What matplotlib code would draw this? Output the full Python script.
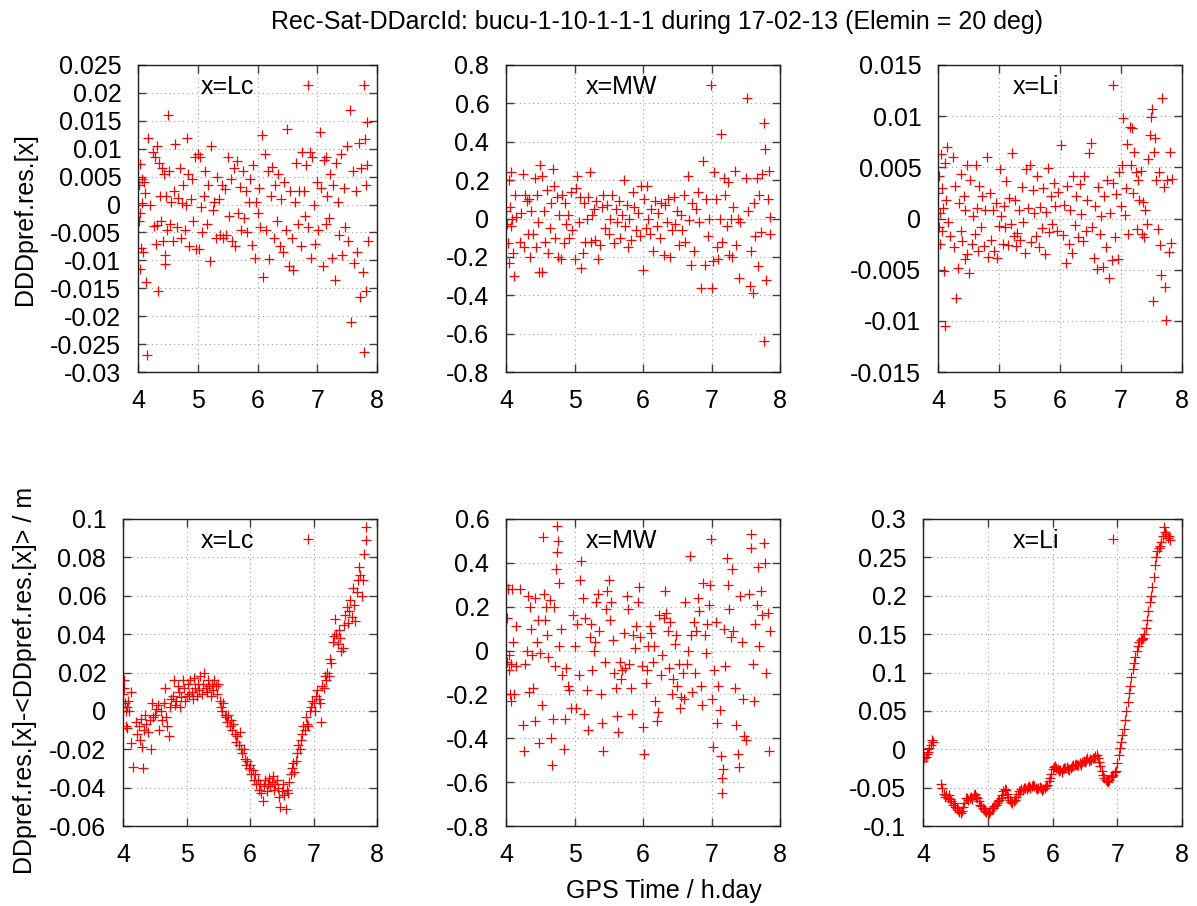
import matplotlib
matplotlib.use('Agg')
import matplotlib.pyplot as plt
from matplotlib.transforms import ScaledTranslation

plt.rcParams['font.family'] = ['Liberation Sans', 'DejaVu Sans']
plt.rcParams['axes.unicode_minus'] = False

title = 'Rec-Sat-DDarcId: bucu-1-10-1-1-1 during 17-02-13 (Elemin = 20 deg)'
xlabel = 'GPS Time / h.day'
ylabel_top = 'DDDpref.res.[x]'
ylabel_bot = 'DDpref.res.[x]-<DDpref.res.[x]> / m'
x_ticks = [4, 5, 6, 7, 8]

# --- top row: DDD residuals (time, value)
lc_ddd = [
    (4.01, 0.0035), (4.02, -0.003), (4.03, 0.0072), (4.04, -0.0015), (4.05, -0.0078),
    (4.06, 0.0045), (4.07, 0.0002), (4.08, -0.0085), (4.03, -0.0115), (4.1, 0.004),
    (4.12, 0.002), (4.14, -0.0138), (4.15, -0.027), (4.17, 0.012), (4.2, 0.0),
    (4.25, 0.0095), (4.27, -0.0038), (4.28, 0.0085), (4.3, -0.007), (4.31, 0.0105),
    (4.32, -0.0036), (4.33, -0.0155), (4.35, 0.0075), (4.36, 0.0015), (4.38, -0.003),
    (4.4, 0.0065), (4.42, -0.0065), (4.44, 0.0055), (4.45, -0.009), (4.46, -0.0107),
    (4.47, 0.0015), (4.48, -0.0045), (4.5, 0.016), (4.52, 0.006), (4.54, -0.0035),
    (4.55, 0.0005), (4.58, -0.0065), (4.6, 0.0025), (4.62, 0.0108), (4.65, -0.004),
    (4.67, 0.0012), (4.7, 0.0065), (4.72, -0.006), (4.74, 0.0002), (4.76, 0.0035),
    (4.78, -0.0045), (4.8, 0.0), (4.82, 0.012), (4.84, 0.0055), (4.86, -0.0075),
    (4.88, 0.001), (4.9, 0.0045), (4.92, -0.003), (4.95, 0.0085), (4.97, -0.008),
    (5.0, 0.009), (5.02, -0.008), (5.03, 0.0085), (5.05, -0.0005), (5.07, -0.005),
    (5.1, 0.0015), (5.12, 0.006), (5.15, -0.0035), (5.17, 0.0035), (5.2, -0.0102),
    (5.23, 0.0105), (5.25, -0.001), (5.27, 0.0005), (5.3, -0.006), (5.32, 0.005),
    (5.35, 0.001), (5.37, -0.0055), (5.4, 0.0035), (5.42, -0.006), (5.45, 0.0028),
    (5.48, -0.0055), (5.5, 0.0085), (5.52, -0.002), (5.55, 0.0045), (5.58, -0.0065),
    (5.6, 0.0065), (5.62, -0.0075), (5.65, 0.0078), (5.68, -0.0015), (5.7, 0.0032),
    (5.72, -0.0045), (5.75, 0.006), (5.78, -0.0025), (5.8, 0.0025), (5.82, -0.005),
    (5.85, 0.0005), (5.88, 0.0045), (5.9, -0.0072), (5.92, 0.007), (5.95, -0.0095),
    (5.97, 0.0005), (6.0, -0.0015), (6.02, 0.003), (6.05, -0.004), (6.08, 0.0125),
    (6.1, -0.013), (6.12, 0.009), (6.15, -0.0045), (6.18, 0.006), (6.2, -0.0098),
    (6.22, 0.0015), (6.25, 0.0068), (6.27, -0.006), (6.3, 0.0035), (6.32, -0.003),
    (6.35, 0.0055), (6.38, -0.0075), (6.4, 0.001), (6.42, -0.0085), (6.45, 0.004),
    (6.48, -0.0045), (6.5, 0.0135), (6.52, -0.011), (6.55, 0.0025), (6.57, -0.006),
    (6.6, -0.0118), (6.62, 0.0005), (6.65, 0.0075), (6.68, -0.0035), (6.7, 0.0025),
    (6.72, -0.0075), (6.75, 0.0095), (6.78, 0.0025), (6.8, -0.002), (6.82, 0.007),
    (6.85, -0.004), (6.88, 0.0095), (6.9, -0.0095), (6.92, 0.0085), (6.95, 0.0),
    (6.97, -0.007), (7.0, 0.004), (7.02, -0.0045), (7.05, 0.013), (7.07, 0.003),
    (7.1, -0.011), (7.12, 0.008), (7.14, -0.0035), (7.15, 0.0085), (7.17, 0.0015),
    (7.2, -0.0025), (7.22, 0.0055), (7.25, -0.0095), (7.27, 0.0035), (7.3, -0.0135),
    (7.32, 0.0075), (7.35, 0.0005), (7.37, -0.0055), (7.4, 0.009), (7.42, -0.009),
    (7.45, 0.003), (7.47, -0.004), (7.5, 0.0105), (7.52, -0.0065), (7.55, 0.017),
    (7.57, -0.021), (7.6, 0.006), (7.62, -0.0105), (7.65, 0.0025), (7.67, -0.0085),
    (7.7, 0.011), (7.72, -0.0165), (7.74, 0.0065), (7.76, -0.012), (7.78, 0.0215),
    (7.79, -0.0265), (7.8, 0.0118), (7.81, 0.0035), (7.82, -0.0155), (7.83, 0.0148),
    (7.84, 0.007), (7.85, -0.0065),
]

mw_ddd = [
    (4.0, 0.04), (4.02, -0.03), (4.03, -0.13), (4.04, -0.23), (4.05, 0.2), (4.06, 0.06),
    (4.07, -0.04), (4.08, 0.24), (4.09, 0.0), (4.1, -0.18), (4.12, -0.3), (4.13, 0.12),
    (4.15, 0.01), (4.2, -0.12), (4.22, 0.03), (4.25, 0.23), (4.27, -0.15), (4.28, 0.12),
    (4.3, 0.09), (4.32, -0.08), (4.34, 0.1), (4.35, -0.2), (4.37, 0.04), (4.4, -0.08),
    (4.42, 0.21), (4.44, -0.15), (4.45, 0.12), (4.47, -0.02), (4.48, -0.28), (4.5, 0.28),
    (4.52, 0.22), (4.53, -0.28), (4.55, 0.04), (4.57, -0.12), (4.6, 0.15), (4.62, -0.18),
    (4.64, -0.05), (4.66, 0.08), (4.68, 0.26), (4.7, 0.17), (4.72, -0.1), (4.74, 0.11),
    (4.76, -0.2), (4.78, 0.02), (4.8, -0.21), (4.82, 0.12), (4.84, -0.13), (4.86, 0.08),
    (4.88, -0.03), (4.9, 0.02), (4.92, -0.1), (4.95, 0.14), (4.97, -0.06), (5.0, -0.21),
    (5.02, 0.16), (5.04, 0.22), (5.06, -0.02), (5.08, 0.11), (5.1, -0.26), (5.12, -0.18),
    (5.14, 0.08), (5.16, -0.12), (5.18, 0.0), (5.2, 0.11), (5.22, 0.24), (5.24, -0.12),
    (5.26, 0.02), (5.28, 0.05), (5.3, -0.11), (5.32, 0.09), (5.35, -0.21), (5.37, -0.14),
    (5.4, 0.06), (5.42, 0.12), (5.45, -0.05), (5.47, 0.07), (5.5, -0.08), (5.52, 0.0),
    (5.55, 0.12), (5.57, -0.13), (5.6, 0.05), (5.62, -0.02), (5.65, 0.09), (5.67, -0.1),
    (5.7, 0.02), (5.72, 0.2), (5.74, -0.04), (5.76, 0.07), (5.78, -0.15), (5.8, 0.0),
    (5.82, -0.11), (5.85, 0.14), (5.87, 0.06), (5.9, -0.06), (5.92, 0.03), (5.95, -0.09),
    (5.97, 0.17), (6.0, -0.27), (6.02, 0.1), (6.04, -0.05), (6.06, 0.17), (6.08, 0.0),
    (6.1, -0.08), (6.12, 0.05), (6.15, -0.17), (6.17, 0.09), (6.2, -0.04), (6.22, 0.03),
    (6.25, -0.1), (6.27, 0.08), (6.3, -0.19), (6.32, 0.07), (6.35, -0.02), (6.37, 0.1),
    (6.4, -0.2), (6.42, -0.06), (6.45, 0.11), (6.47, -0.03), (6.5, 0.04), (6.52, -0.14),
    (6.55, 0.02), (6.57, -0.06), (6.6, 0.12), (6.62, -0.12), (6.65, 0.22), (6.67, -0.01),
    (6.7, -0.24), (6.72, 0.08), (6.75, -0.17), (6.77, 0.05), (6.8, 0.14), (6.82, -0.02),
    (6.85, -0.36), (6.87, 0.3), (6.9, -0.24), (6.92, 0.1), (6.95, -0.09), (6.97, 0.0),
    (7.0, -0.36), (7.02, -0.22), (7.04, 0.24), (7.06, 0.1), (7.08, -0.15), (7.1, -0.21),
    (7.12, 0.0), (7.14, 0.44), (7.16, -0.12), (7.18, 0.21), (7.2, 0.12), (7.22, -0.04),
    (7.24, 0.19), (7.26, -0.19), (7.28, 0.0), (7.3, -0.2), (7.32, 0.06), (7.34, 0.25),
    (7.36, -0.14), (7.38, 0.0), (7.4, -0.31), (7.42, -0.02), (7.5, 0.21), (7.52, 0.63),
    (7.54, 0.04), (7.56, -0.35), (7.58, -0.17), (7.6, -0.39), (7.62, 0.08), (7.64, -0.09),
    (7.66, 0.21), (7.68, -0.25), (7.7, 0.12), (7.72, -0.07), (7.74, 0.23), (7.76, 0.5),
    (7.77, -0.64), (7.78, 0.36), (7.8, -0.32), (7.82, 0.1), (7.84, 0.25), (7.85, -0.08),
    (7.86, 0.01),
]

li_ddd = [
    (4.0, 0.0025), (4.01, -0.0008), (4.02, 0.0042), (4.03, 0.0005), (4.04, -0.0025),
    (4.05, 0.0063), (4.06, 0.003), (4.07, -0.0012), (4.08, 0.001), (4.1, -0.0051),
    (4.11, 0.0054), (4.12, -0.0105), (4.13, 0.0018), (4.15, 0.007), (4.16, -0.0003),
    (4.2, -0.0017), (4.25, 0.006), (4.27, -0.0028), (4.28, 0.0032), (4.3, -0.0078),
    (4.32, -0.0048), (4.35, 0.0015), (4.37, -0.0012), (4.38, 0.0043), (4.4, -0.0022),
    (4.42, 0.0022), (4.44, -0.004), (4.45, 0.0008), (4.47, -0.0035), (4.48, 0.0052),
    (4.5, -0.0053), (4.52, 0.0038), (4.55, -0.0025), (4.57, 0.0002), (4.6, -0.0015),
    (4.62, 0.0052), (4.64, 0.001), (4.66, -0.0032), (4.68, 0.0032), (4.7, -0.0008),
    (4.72, 0.0022), (4.75, -0.0027), (4.77, 0.0008), (4.8, 0.006), (4.82, -0.0038),
    (4.85, 0.0025), (4.87, -0.0021), (4.9, 0.0008), (4.92, -0.0032), (4.95, 0.0015),
    (4.97, -0.0039), (5.0, -0.0007), (5.02, 0.0048), (5.04, 0.0002), (5.06, -0.0025),
    (5.08, 0.0012), (5.1, -0.0008), (5.12, 0.0037), (5.15, -0.0026), (5.17, 0.002),
    (5.2, -0.0005), (5.22, 0.0064), (5.24, -0.0017), (5.26, 0.0018), (5.28, -0.0027),
    (5.3, -0.0014), (5.32, 0.0008), (5.35, -0.0021), (5.37, 0.0031), (5.4, -0.0003),
    (5.42, -0.0034), (5.45, 0.0048), (5.47, 0.001), (5.5, 0.0052), (5.52, -0.0023),
    (5.55, 0.0028), (5.57, 0.0005), (5.6, -0.0017), (5.62, 0.0042), (5.65, -0.0028),
    (5.67, 0.0011), (5.7, -0.0009), (5.72, 0.003), (5.75, -0.0035), (5.77, 0.0006),
    (5.8, 0.0049), (5.82, -0.0013), (5.85, 0.0022), (5.87, -0.0005), (5.9, 0.0035),
    (5.92, 0.0012), (5.95, -0.0012), (5.97, 0.0026), (6.02, 0.0072), (6.05, -0.0016),
    (6.07, 0.0013), (6.1, -0.0043), (6.12, 0.0032), (6.15, -0.0025), (6.17, 0.0008),
    (6.2, -0.0034), (6.22, 0.0042), (6.25, -0.0006), (6.27, 0.0022), (6.3, -0.0018),
    (6.32, 0.0034), (6.35, 0.0004), (6.37, -0.0022), (6.4, 0.0042), (6.42, -0.0012),
    (6.45, 0.0018), (6.47, 0.0064), (6.5, 0.0074), (6.52, -0.0008), (6.55, -0.0039),
    (6.57, 0.0012), (6.6, -0.0049), (6.62, 0.0031), (6.65, -0.0015), (6.67, 0.0002),
    (6.7, -0.0047), (6.72, 0.0022), (6.75, -0.0028), (6.77, 0.0038), (6.8, -0.0058),
    (6.82, 0.0005), (6.85, -0.0041), (6.87, 0.0035), (6.9, -0.0018), (6.92, 0.0024),
    (6.95, -0.004), (6.97, 0.0045), (7.0, 0.0012), (7.02, 0.0052), (7.04, 0.0098),
    (7.06, 0.0003), (7.08, 0.003), (7.1, 0.0073), (7.12, -0.0015), (7.14, 0.0089),
    (7.16, 0.0052), (7.18, 0.0088), (7.2, 0.0025), (7.22, 0.0065), (7.24, 0.0045),
    (7.26, -0.001), (7.28, 0.0038), (7.3, 0.0018), (7.32, 0.0046), (7.34, -0.0015),
    (7.36, 0.0016), (7.38, -0.0018), (7.4, 0.0008), (7.42, -0.0005), (7.45, 0.0058),
    (7.47, 0.0082), (7.49, 0.0099), (7.5, 0.0107), (7.52, -0.0081), (7.54, 0.0065),
    (7.56, 0.0079), (7.58, 0.0038), (7.6, -0.001), (7.62, 0.0045), (7.64, -0.0026),
    (7.66, -0.0055), (7.68, 0.0118), (7.7, 0.0031), (7.72, -0.0067), (7.74, -0.0099),
    (7.76, 0.0038), (7.78, -0.0033), (7.8, 0.0065), (7.82, -0.0024), (7.84, 0.0039),
]

# --- bottom row: DD residuals minus mean
lc_dd = [
    (4.0, 0.009), (4.01, 0.016), (4.02, 0.012), (4.03, 0.004), (4.04, -0.008), (4.05, 0.0),
    (4.06, 0.002), (4.07, -0.009), (4.08, 0.005), (4.1, 0.0), (4.12, 0.01), (4.13, -0.017),
    (4.15, -0.029), (4.2, -0.006), (4.22, -0.012), (4.25, -0.008), (4.27, -0.015),
    (4.28, -0.004), (4.3, -0.019), (4.32, -0.03), (4.33, -0.01), (4.35, -0.002),
    (4.37, -0.007), (4.4, -0.011), (4.42, -0.005), (4.44, -0.02), (4.45, 0.004),
    (4.47, -0.003), (4.5, -0.002), (4.52, 0.001), (4.55, 0.003), (4.57, -0.01), (4.6, 0.0),
    (4.62, -0.005), (4.64, 0.004), (4.66, 0.012), (4.68, -0.003), (4.7, -0.008),
    (4.72, -0.013), (4.74, 0.002), (4.76, 0.006), (4.78, 0.008), (4.8, 0.016), (4.82, 0.003),
    (4.84, 0.005), (4.86, 0.013), (4.88, 0.01), (4.9, 0.002), (4.92, 0.007), (4.94, 0.016),
    (4.96, 0.012), (4.98, 0.005), (5.0, 0.008), (5.02, 0.014), (5.04, 0.009), (5.06, 0.016),
    (5.08, 0.01), (5.1, 0.006), (5.12, 0.017), (5.14, 0.012), (5.16, 0.008), (5.18, 0.014),
    (5.2, 0.011), (5.22, 0.018), (5.24, 0.009), (5.26, 0.014), (5.28, 0.02), (5.3, 0.012),
    (5.32, 0.01), (5.34, 0.016), (5.36, 0.013), (5.38, 0.008), (5.4, 0.014), (5.42, 0.011),
    (5.44, 0.016), (5.46, 0.013), (5.48, 0.009), (5.5, 0.014), (5.52, 0.005), (5.54, 0.002),
    (5.56, 0.0), (5.58, 0.004), (5.6, -0.002), (5.62, -0.003), (5.64, -0.006), (5.66, -0.002),
    (5.68, -0.008), (5.7, -0.005), (5.72, -0.01), (5.74, -0.007), (5.76, -0.012),
    (5.78, -0.016), (5.8, -0.013), (5.82, -0.018), (5.84, -0.011), (5.86, -0.02),
    (5.88, -0.022), (5.9, -0.02), (5.92, -0.025), (5.94, -0.028), (5.96, -0.026),
    (5.98, -0.03), (6.0, -0.028), (6.02, -0.033), (6.04, -0.031), (6.06, -0.036),
    (6.08, -0.033), (6.1, -0.038), (6.12, -0.036), (6.14, -0.041), (6.16, -0.038),
    (6.18, -0.043), (6.2, -0.047), (6.22, -0.039), (6.24, -0.036), (6.26, -0.042),
    (6.28, -0.038), (6.3, -0.035), (6.32, -0.039), (6.34, -0.037), (6.36, -0.034),
    (6.38, -0.041), (6.4, -0.038), (6.42, -0.036), (6.44, -0.04), (6.46, -0.045),
    (6.48, -0.05), (6.5, -0.042), (6.52, -0.038), (6.54, -0.044), (6.56, -0.051),
    (6.58, -0.041), (6.6, -0.043), (6.62, -0.037), (6.64, -0.033), (6.66, -0.03),
    (6.68, -0.027), (6.7, -0.032), (6.72, -0.026), (6.74, -0.022), (6.76, -0.018),
    (6.78, -0.02), (6.8, -0.015), (6.82, -0.012), (6.84, -0.008), (6.86, -0.01),
    (6.88, -0.003), (6.9, -0.007), (6.92, -0.008), (6.94, 0.0), (6.96, 0.002), (6.98, 0.005),
    (7.0, 0.004), (7.02, 0.0), (7.04, 0.008), (7.06, 0.011), (7.08, 0.006), (7.1, 0.004),
    (7.12, -0.006), (7.14, 0.013), (7.16, 0.012), (7.18, 0.018), (7.2, 0.016), (7.22, 0.02),
    (7.24, 0.018), (7.26, 0.027), (7.28, 0.025), (7.3, 0.036), (7.32, 0.039), (7.34, 0.048),
    (7.36, 0.04), (7.38, 0.035), (7.4, 0.042), (7.42, 0.038), (7.44, 0.031), (7.46, 0.033),
    (7.48, 0.045), (7.5, 0.05), (7.52, 0.054), (7.54, 0.046), (7.56, 0.052), (7.58, 0.058),
    (7.6, 0.049), (7.62, 0.064), (7.64, 0.055), (7.66, 0.047), (7.68, 0.062), (7.7, 0.068),
    (7.72, 0.075), (7.74, 0.071), (7.76, 0.06), (7.78, 0.068), (7.8, 0.082), (7.82, 0.089),
    (7.83, 0.096),
]

mw_dd = [
    (4.0, 0.3), (4.01, 0.15), (4.02, -0.05), (4.03, 0.28), (4.04, -0.09), (4.05, -0.02),
    (4.06, -0.2), (4.07, -0.23), (4.08, -0.06), (4.09, 0.28), (4.1, 0.04), (4.12, -0.2),
    (4.14, 0.11), (4.15, -0.07), (4.2, 0.28), (4.25, -0.34), (4.27, -0.46), (4.28, -0.06),
    (4.3, 0.0), (4.32, 0.25), (4.33, -0.19), (4.35, 0.2), (4.37, 0.1), (4.38, -0.02),
    (4.4, -0.17), (4.42, 0.24), (4.43, -0.32), (4.45, 0.04), (4.47, 0.14), (4.48, -0.42),
    (4.5, -0.01), (4.52, -0.25), (4.54, 0.52), (4.55, 0.26), (4.57, 0.14), (4.58, 0.2),
    (4.6, 0.07), (4.62, -0.03), (4.64, 0.23), (4.65, -0.4), (4.67, -0.52), (4.68, -0.31),
    (4.7, 0.2), (4.72, -0.07), (4.73, 0.37), (4.74, 0.57), (4.75, 0.45), (4.76, 0.5),
    (4.77, 0.31), (4.78, 0.02), (4.8, 0.1), (4.82, -0.11), (4.84, -0.45), (4.86, -0.31),
    (4.88, -0.08), (4.9, -0.16), (4.92, -0.18), (4.95, -0.26), (4.98, 0.16), (5.0, 0.02),
    (5.02, -0.26), (5.04, 0.12), (5.06, -0.11), (5.08, 0.32), (5.1, 0.41), (5.12, 0.24),
    (5.14, -0.29), (5.16, 0.15), (5.18, -0.18), (5.2, -0.36), (5.22, 0.06), (5.24, 0.12),
    (5.26, -0.09), (5.28, 0.0), (5.3, 0.04), (5.32, 0.22), (5.34, 0.26), (5.36, 0.09),
    (5.38, -0.2), (5.4, -0.33), (5.42, -0.46), (5.44, -0.05), (5.46, 0.19), (5.48, 0.27),
    (5.5, 0.32), (5.52, 0.14), (5.54, 0.22), (5.56, 0.05), (5.58, -0.1), (5.6, -0.17),
    (5.62, -0.3), (5.64, -0.37), (5.66, -0.05), (5.68, -0.13), (5.7, -0.09), (5.72, 0.08),
    (5.74, -0.08), (5.76, 0.25), (5.78, 0.19), (5.8, -0.06), (5.82, -0.17), (5.84, -0.29),
    (5.86, 0.07), (5.88, 0.01), (5.9, 0.11), (5.92, 0.22), (5.94, 0.29), (5.96, 0.06),
    (5.98, -0.07), (6.0, -0.35), (6.02, -0.47), (6.04, -0.15), (6.06, -0.09), (6.08, 0.02),
    (6.1, 0.11), (6.12, 0.08), (6.14, -0.05), (6.16, 0.02), (6.18, -0.23), (6.2, -0.32),
    (6.22, -0.28), (6.24, 0.16), (6.26, -0.11), (6.28, -0.02), (6.3, 0.15), (6.32, 0.27),
    (6.34, 0.17), (6.36, 0.09), (6.38, -0.08), (6.4, 0.13), (6.42, -0.2), (6.44, -0.13),
    (6.46, 0.03), (6.48, 0.07), (6.5, -0.16), (6.52, -0.06), (6.54, -0.26), (6.56, -0.21),
    (6.58, -0.1), (6.6, -0.22), (6.62, 0.22), (6.64, -0.06), (6.66, 0.0), (6.68, 0.43),
    (6.7, 0.07), (6.72, -0.19), (6.74, 0.13), (6.76, -0.1), (6.78, 0.09), (6.8, 0.24),
    (6.82, 0.18), (6.84, -0.16), (6.86, -0.25), (6.88, 0.31), (6.9, 0.07), (6.92, -0.01),
    (6.94, 0.12), (6.96, 0.21), (6.98, 0.3), (7.0, -0.22), (7.02, -0.44), (7.04, -0.09),
    (7.06, 0.13), (7.08, -0.33), (7.1, -0.16), (7.12, -0.27), (7.14, -0.48), (7.15, -0.58),
    (7.16, -0.65), (7.17, -0.54), (7.18, 0.1), (7.2, -0.07), (7.22, 0.42), (7.24, 0.3),
    (7.26, 0.19), (7.28, 0.06), (7.3, 0.37), (7.32, 0.09), (7.34, -0.17), (7.36, -0.34),
    (7.38, -0.47), (7.4, -0.53), (7.42, 0.25), (7.44, 0.04), (7.46, -0.22), (7.48, -0.39),
    (7.5, -0.41), (7.55, 0.26), (7.57, 0.47), (7.58, 0.53), (7.6, -0.06), (7.62, -0.23),
    (7.64, 0.12), (7.66, 0.21), (7.68, 0.38), (7.7, 0.02), (7.72, 0.27), (7.74, 0.16),
    (7.76, 0.49), (7.78, 0.4), (7.8, -0.1), (7.82, 0.17), (7.84, -0.46), (7.86, 0.09),
]

li_dd = [
    (4.0, -0.015), (4.02, -0.012), (4.04, -0.01), (4.06, -0.006), (4.08, -0.003),
    (4.1, 0.002), (4.12, 0.006), (4.14, 0.012), (4.16, 0.01),
    (4.28, -0.045), (4.3, -0.05), (4.32, -0.058), (4.34, -0.062), (4.36, -0.06),
    (4.38, -0.063), (4.4, -0.06), (4.42, -0.065), (4.44, -0.068), (4.46, -0.072),
    (4.48, -0.07), (4.5, -0.075), (4.52, -0.077), (4.54, -0.079), (4.56, -0.082),
    (4.58, -0.083), (4.6, -0.08), (4.62, -0.075), (4.64, -0.07), (4.66, -0.064),
    (4.68, -0.063), (4.7, -0.066), (4.72, -0.064), (4.74, -0.062), (4.76, -0.065),
    (4.78, -0.06), (4.8, -0.058), (4.82, -0.062), (4.84, -0.063), (4.86, -0.068),
    (4.88, -0.072), (4.9, -0.074), (4.92, -0.076), (4.94, -0.078), (4.96, -0.08),
    (4.98, -0.082), (5.0, -0.085), (5.02, -0.083), (5.04, -0.08), (5.06, -0.077),
    (5.08, -0.076), (5.1, -0.074), (5.12, -0.072), (5.14, -0.07), (5.16, -0.068),
    (5.18, -0.066), (5.2, -0.064), (5.22, -0.06), (5.24, -0.055), (5.26, -0.052),
    (5.28, -0.053), (5.3, -0.058), (5.32, -0.062), (5.34, -0.066), (5.36, -0.069),
    (5.38, -0.07), (5.4, -0.068), (5.42, -0.066), (5.44, -0.062), (5.46, -0.058),
    (5.48, -0.055), (5.5, -0.054), (5.52, -0.052), (5.54, -0.053), (5.56, -0.051),
    (5.58, -0.05), (5.6, -0.052), (5.62, -0.049), (5.64, -0.048), (5.66, -0.05),
    (5.68, -0.048), (5.7, -0.046), (5.72, -0.048), (5.74, -0.05), (5.76, -0.052),
    (5.78, -0.05), (5.8, -0.049), (5.82, -0.051), (5.84, -0.053), (5.86, -0.052),
    (5.88, -0.05), (5.9, -0.048), (5.92, -0.046), (5.94, -0.042), (5.96, -0.038),
    (5.98, -0.032), (6.0, -0.026), (6.02, -0.023), (6.04, -0.022), (6.06, -0.024),
    (6.08, -0.026), (6.1, -0.028), (6.12, -0.027), (6.14, -0.029), (6.16, -0.026),
    (6.18, -0.024), (6.2, -0.025), (6.22, -0.023), (6.24, -0.026), (6.26, -0.027),
    (6.28, -0.025), (6.3, -0.022), (6.32, -0.02), (6.34, -0.02), (6.36, -0.019),
    (6.38, -0.021), (6.4, -0.02), (6.42, -0.018), (6.44, -0.02), (6.46, -0.017),
    (6.48, -0.015), (6.5, -0.016), (6.52, -0.014), (6.54, -0.012), (6.56, -0.015),
    (6.58, -0.013), (6.6, -0.014), (6.62, -0.011), (6.64, -0.012), (6.66, -0.009),
    (6.68, -0.008), (6.7, -0.012), (6.72, -0.016), (6.74, -0.022), (6.76, -0.028),
    (6.78, -0.033), (6.8, -0.037), (6.82, -0.04), (6.84, -0.042), (6.86, -0.043),
    (6.88, -0.04), (6.9, -0.036), (6.92, -0.035), (6.94, -0.033), (6.96, -0.03),
    (6.98, -0.028), (7.0, -0.018), (7.02, -0.008), (7.04, 0.002), (7.06, 0.01),
    (7.08, 0.018), (7.1, 0.027), (7.12, 0.038), (7.14, 0.05), (7.16, 0.062), (7.18, 0.073),
    (7.2, 0.082), (7.22, 0.094), (7.24, 0.105), (7.26, 0.112), (7.28, 0.12), (7.3, 0.128),
    (7.32, 0.135), (7.34, 0.14), (7.36, 0.142), (7.38, 0.143), (7.4, 0.145), (7.42, 0.15),
    (7.44, 0.158), (7.46, 0.168), (7.48, 0.18), (7.5, 0.192), (7.52, 0.2), (7.54, 0.212),
    (7.56, 0.225), (7.58, 0.24), (7.6, 0.25), (7.62, 0.258), (7.64, 0.262), (7.66, 0.265),
    (7.68, 0.27), (7.7, 0.278), (7.72, 0.29), (7.74, 0.283), (7.76, 0.28), (7.78, 0.275),
    (7.8, 0.278), (7.82, 0.272),
]

# y ranges / ticks per panel (gnuplot autoscale)
panels = [
    # data, key, ylim, ystep, axes rect in pixels (l, t, r, b)
    (lc_ddd, 'x=Lc', (-0.03, 0.025), 0.005, (138, 65, 377, 372)),
    (mw_ddd, 'x=MW', (-0.8, 0.8), 0.2, (506, 65, 780, 372)),
    (li_ddd, 'x=Li', (-0.015, 0.015), 0.005, (938, 65, 1182, 372)),
    (lc_dd, 'x=Lc', (-0.06, 0.1), 0.02, (123, 519, 377, 826)),
    (mw_dd, 'x=MW', (-0.8, 0.6), 0.2, (506, 519, 780, 826)),
    (li_dd, 'x=Li', (-0.1, 0.3), 0.05, (923, 519, 1182, 826)),
]

W, H = 1197, 906
fig = plt.figure(figsize=(W / 100, H / 100), dpi=100)
RED = '#ff0000'
FS = 18

for data, key, ylim, ystep, (l, t, r, b) in panels:
    ax = fig.add_axes([l / W, 1 - b / H, (r - l) / W, (b - t) / H])
    xs = [p[0] for p in data]
    ys = [p[1] for p in data]
    ax.plot(xs, ys, linestyle='none', marker='+', color=RED,
            markersize=6.5, markeredgewidth=0.9, label=key)
    ax.set_xlim(4, 8)
    ax.set_ylim(*ylim)
    ax.set_xticks(x_ticks)
    n = int(round((ylim[1] - ylim[0]) / ystep))
    yt = [round(ylim[0] + i * ystep, 4) for i in range(n + 1)]
    ax.set_yticks(yt)
    ax.set_yticklabels(['{:g}'.format(v) if abs(v) > 1e-9 else '0' for v in yt])
    ax.tick_params(direction='in', length=6, width=1, top=True, right=True,
                   labelsize=FS, pad=12, color='#404040')
    ax.grid(True, linestyle=(0, (1, 3)), color='#a0a0a0', linewidth=0.8)
    for s in ax.spines.values():
        s.set_linewidth(1.0)
        s.set_color('#202020')
    # gnuplot style key: text first, sample to its right
    off = ScaledTranslation(-45 / 100, -10 / 100, fig.dpi_scale_trans)
    ax.legend(loc='upper right', bbox_to_anchor=(1, 1), bbox_transform=ax.transAxes + off,
              frameon=False, markerfirst=False, fontsize=FS, handlelength=1.9,
              handletextpad=1.2, borderpad=0, borderaxespad=0)

fig.text(657 / W, 1 - 22 / H, title, ha='center', va='center', fontsize=18)
fig.text(664 / W, 1 - 891 / H, xlabel, ha='center', va='center', fontsize=FS)
fig.text(25 / W, 1 - 219 / H, ylabel_top, ha='center', va='center', rotation=90, fontsize=FS)
fig.text(25 / W, 1 - 680 / H, ylabel_bot, ha='center', va='center', rotation=90, fontsize=FS)

fig.savefig('out.png', dpi=100)
